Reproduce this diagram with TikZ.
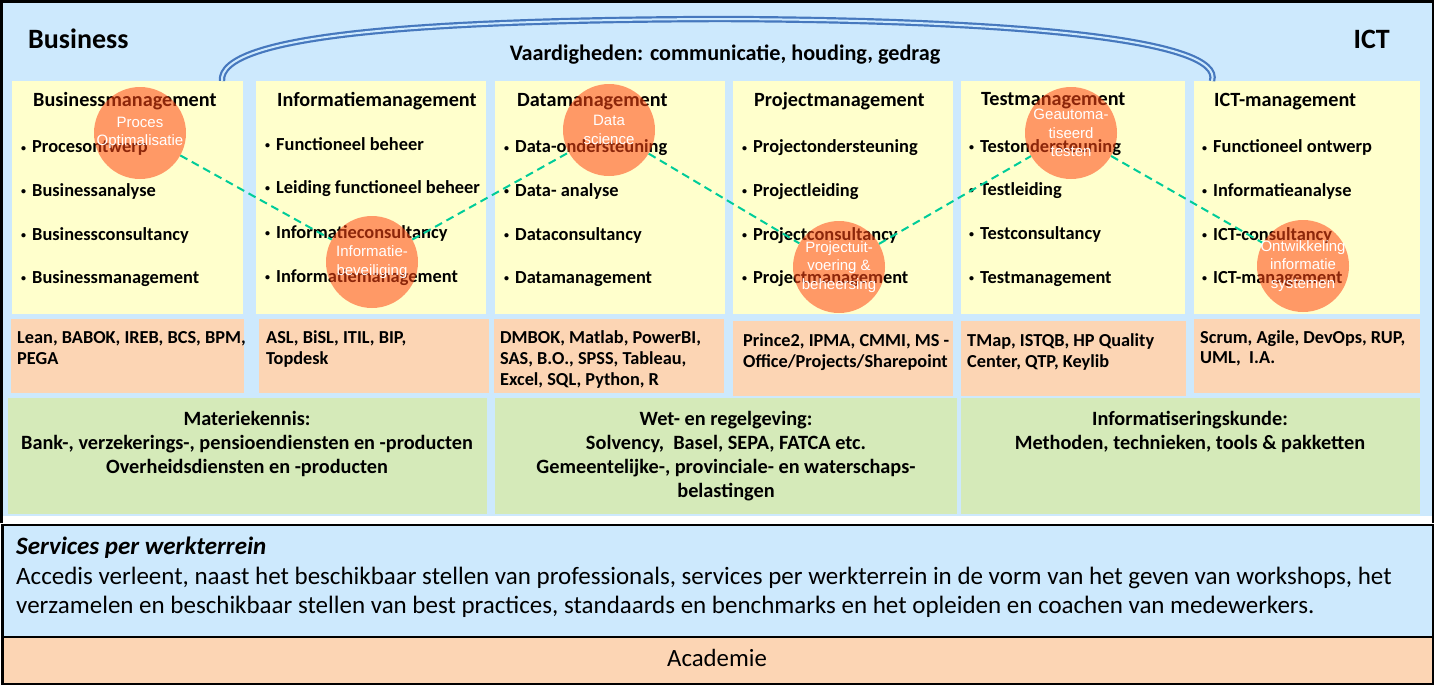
\documentclass[tikz,border=0pt]{standalone}
\usepackage{fontspec}
\setmainfont{Carlito}
\newfontfamily\arialf{Liberation Sans}
\definecolor{bgblue}{RGB}{205,233,253}
\definecolor{ylw}{RGB}{255,255,204}
\definecolor{peach}{RGB}{252,213,180}
\definecolor{grn}{RGB}{213,234,185}
\definecolor{circ}{RGB}{255,70,20}
\definecolor{dash}{RGB}{0,204,153}
\definecolor{arcblue}{RGB}{70,120,190}
\tikzset{
  ybox/.style={fill=ylw, draw=none, anchor=north west, inner sep=0pt},
  pbox/.style={fill=peach, draw=none, anchor=north west, inner sep=0pt},
  gbox/.style={fill=grn, draw=none, anchor=north west, inner sep=0pt},
  bigtitle/.style={anchor=base west, inner sep=0pt, font=\fontsize{28}{32}\selectfont\bfseries},
  head/.style={anchor=base west, inner sep=0pt, font=\fontsize{20.2}{24}\selectfont\bfseries},
  item/.style={anchor=base west, inner sep=0pt, font=\fontsize{18.4}{22}\selectfont\bfseries},
  tool/.style={anchor=base west, inner sep=0pt, font=\fontsize{18.3}{22}\selectfont\bfseries},
  gtext/.style={anchor=base, inner sep=0pt, font=\fontsize{20.3}{24}\selectfont\bfseries},
  circnode/.style={circle, minimum size=92pt, inner sep=0pt, fill=circ, fill opacity=0.55, draw=none},
  ctext/.style={text=white, align=center, inner sep=0pt, font=\arialf\fontsize{15}{18.5}\selectfont},
  link/.style={draw=dash, line width=2pt, dash pattern=on 8pt off 5pt},
  frame/.style={draw=black, line width=2.5pt},
}
\newcommand{\bl}[1]{\makebox[12pt][l]{\hspace{1pt}\raisebox{1.5pt}{\fontsize{10}{10}\selectfont\textbullet}}#1}
\begin{document}
\begin{tikzpicture}[x=1pt,y=-1pt]
\useasboundingbox (0,0) rectangle (1434,689);
% top frame
\node[fill=white, draw=none, anchor=north west, inner sep=0pt, minimum width=1432pt, minimum height=522pt] (frame) at (1,1) {};
\node[fill=bgblue, draw=none, anchor=north west, inner sep=0pt, minimum width=1430pt, minimum height=514pt] (bg) at (2,2) {};
\draw[black, line width=2.5pt] (1.25,523) -- (1.25,1.25) -- (1432.75,1.25) -- (1432.75,523);
% services and academie
\node[fill=bgblue, frame, anchor=north west, inner sep=0pt, minimum width=1431pt, minimum height=112pt] (serv) at (1.25,523.5) {};
\node[fill=peach, frame, anchor=north west, inner sep=0pt, minimum width=1431pt, minimum height=47pt] (acad) at (1.25,635.5) {};

% top titles
\node[bigtitle] (business) at (28,48) {Business};
\node[bigtitle, anchor=base east] (ict) at (1390,48) {ICT};
\node[anchor=base, inner sep=0pt, font=\fontsize{22.2}{26}\selectfont\bfseries] (vaard) at (725,60) {Vaardigheden: communicatie, houding, gedrag};

% yellow boxes
\node[ybox, minimum width=231pt, minimum height=233pt] (y1) at (12,81) {};
\node[ybox, minimum width=230pt, minimum height=233pt] (y2) at (256,81) {};
\node[ybox, minimum width=230pt, minimum height=233pt] (y3) at (495,81) {};
\node[ybox, minimum width=220pt, minimum height=233pt] (y4) at (733,81) {};
\node[ybox, minimum width=224pt, minimum height=233pt] (y5) at (961,81) {};
\node[ybox, minimum width=226pt, minimum height=233pt] (y6) at (1194,81) {};

% arc
\coordinate (arcL) at (222,81);
\coordinate (arcR) at (1212,81);
\draw[arcblue, line width=2.2pt, double=bgblue, double distance=2pt]
  (arcL) .. controls (218,35) and (420,20) .. (720,19) .. controls (1020,20) and (1225,40) .. (arcR);

% peach boxes
\node[pbox, minimum width=233pt, minimum height=74pt] (p1) at (11,319) {};
\node[pbox, minimum width=230pt, minimum height=74pt] (p2) at (259,319) {};
\node[pbox, minimum width=230pt, minimum height=74pt] (p3) at (494,319) {};
\node[pbox, minimum width=220pt, minimum height=75pt] (p4) at (733,321) {};
\node[pbox, minimum width=225pt, minimum height=75pt] (p5) at (961,321) {};
\node[pbox, minimum width=226pt, minimum height=74pt] (p6) at (1194,319) {};

% green boxes
\node[gbox, minimum width=479pt, minimum height=116pt] (g1) at (8,398) {};
\node[gbox, minimum width=462pt, minimum height=116pt] (g2) at (495,398) {};
\node[gbox, minimum width=459pt, minimum height=116pt] (g3) at (961,398) {};

% headings
\node[head] (h1) at (33,106) {Businessmanagement};
\node[head] (h2) at (277,106) {Informatiemanagement};
\node[head] (h3) at (517,106) {Datamanagement};
\node[head] (h4) at (754,106) {Projectmanagement};
\node[head] (h5) at (981,105.5) {Testmanagement};
\node[head] (h6) at (1214,106) {ICT-management};

% items
\node[item] (i11) at (20,152.5) {\bl{Procesontwerp}};
\node[item] (i12) at (20,196) {\bl{Businessanalyse}};
\node[item] (i13) at (20,240) {\bl{Businessconsultancy}};
\node[item] (i14) at (20,283) {\bl{Businessmanagement}};
\node[item] (i21) at (264,150) {\bl{Functioneel beheer}};
\node[item] (i22) at (264,193) {\bl{Leiding functioneel beheer}};
\node[item] (i23) at (264,238) {\bl{Informatieconsultancy}};
\node[item] (i24) at (264,282) {\bl{Informatiemanagement}};
\node[item] (i31) at (503,152.5) {\bl{Data-ondersteuning}};
\node[item] (i32) at (503,196) {\bl{Data- analyse}};
\node[item] (i33) at (503,240) {\bl{Dataconsultancy}};
\node[item] (i34) at (503,283) {\bl{Datamanagement}};
\node[item] (i41) at (741,152.5) {\bl{Projectondersteuning}};
\node[item] (i42) at (741,196) {\bl{Projectleiding}};
\node[item] (i43) at (741,240) {\bl{Projectconsultancy}};
\node[item] (i44) at (741,283) {\bl{Projectmanagement}};
\node[item] (i51) at (968,152) {\bl{Testondersteuning}};
\node[item] (i52) at (968,195) {\bl{Testleiding}};
\node[item] (i53) at (968,239) {\bl{Testconsultancy}};
\node[item] (i54) at (968,283) {\bl{Testmanagement}};
\node[item] (i61) at (1201,152.5) {\bl{Functioneel ontwerp}};
\node[item] (i62) at (1201,196) {\bl{Informatieanalyse}};
\node[item] (i63) at (1201,240) {\bl{ICT-consultancy}};
\node[item] (i64) at (1201,283) {\bl{ICT-management}};

% tools
\node[tool] (t11) at (17,343) {Lean, BABOK, IREB, BCS, BPM,};
\node[tool] (t12) at (17,364) {PEGA};
\node[tool] (t21) at (266,343) {ASL, BiSL, ITIL, BIP,};
\node[tool] (t22) at (266,364) {Topdesk};
\node[tool] (t31) at (500,343) {DMBOK, Matlab, PowerBI,};
\node[tool] (t32) at (500,364) {SAS, B.O., SPSS, Tableau,};
\node[tool] (t33) at (500,385) {Excel, SQL, Python, R};
\node[tool] (t41) at (743,346) {Prince2, IPMA, CMMI, MS -};
\node[tool] (t42) at (743,367) {Office/Projects/Sharepoint};
\node[tool] (t51) at (967,346) {TMap, ISTQB, HP Quality};
\node[tool] (t52) at (967,367) {Center, QTP, Keylib};
\node[tool] (t61) at (1200,343) {Scrum, Agile, DevOps, RUP,};
\node[tool] (t62) at (1200,363) {UML,\ \ I.A.};

% green texts
\node[gtext] (m1) at (247,425) {Materiekennis:};
\node[gtext] (m2) at (247,449) {Bank-, verzekerings-, pensioendiensten en -producten};
\node[gtext] (m3) at (247,473) {Overheidsdiensten en -producten};
\node[gtext] (w1) at (726,425) {Wet- en regelgeving:};
\node[gtext] (w2) at (726,449) {Solvency,\ \ Basel, SEPA, FATCA etc.};
\node[gtext] (w3) at (726,473) {Gemeentelijke-, provinciale- en waterschaps-};
\node[gtext] (w4) at (726,497) {belastingen};
\node[gtext] (k1) at (1190,425) {Informatiseringskunde:};
\node[gtext] (k2) at (1190,449) {Methoden, technieken, tools \& pakketten};

% services
\node[anchor=base west, inner sep=0pt, font=\fontsize{25}{29}\selectfont\bfseries\itshape] (st) at (16,554) {Services per werkterrein};
\node[anchor=base west, inner sep=0pt, font=\fontsize{25}{29}\selectfont] (s1) at (16,584) {Accedis verleent, naast het beschikbaar stellen van professionals, services per werkterrein in de vorm van het geven van workshops, het};
\node[anchor=base west, inner sep=0pt, font=\fontsize{25}{29}\selectfont] (s2) at (16,613) {verzamelen en beschikbaar stellen van best practices, standaards en benchmarks en het opleiden en coachen van medewerkers.};
\node[anchor=base, inner sep=0pt, font=\fontsize{24.8}{29}\selectfont] (ac) at (717,666) {Academie};

% circles
\node[circnode] (c1) at (140,133) {};
\node[circnode] (c2) at (609,130) {};
\node[circnode] (c3) at (1071,133) {};
\node[circnode] (c4) at (372,262) {};
\node[circnode] (c5) at (839,267) {};
\node[circnode] (c6) at (1303,266) {};
\draw[link] (c1) -- (c4);
\draw[link] (c4) -- (c2);
\draw[link] (c2) -- (c5);
\draw[link] (c5) -- (c3);
\draw[link] (c3) -- (c6);
\node[ctext] (ct1) at (c1) {Proces\\Optimalisatie};
\node[ctext] (ct2) at (c2) {Data\\science};
\node[ctext] (ct3) at (c3) {Geautoma-\\tiseerd\\testen};
\node[ctext] (ct4) at (c4) {Informatie-\\beveiliging};
\node[ctext] (ct5) at (c5) {Projectuit-\\voering \&\\beheersing};
\node[ctext] (ct6) at (c6) {Ontwikkeling\\informatie\\systemen};
\end{tikzpicture}
\end{document}
